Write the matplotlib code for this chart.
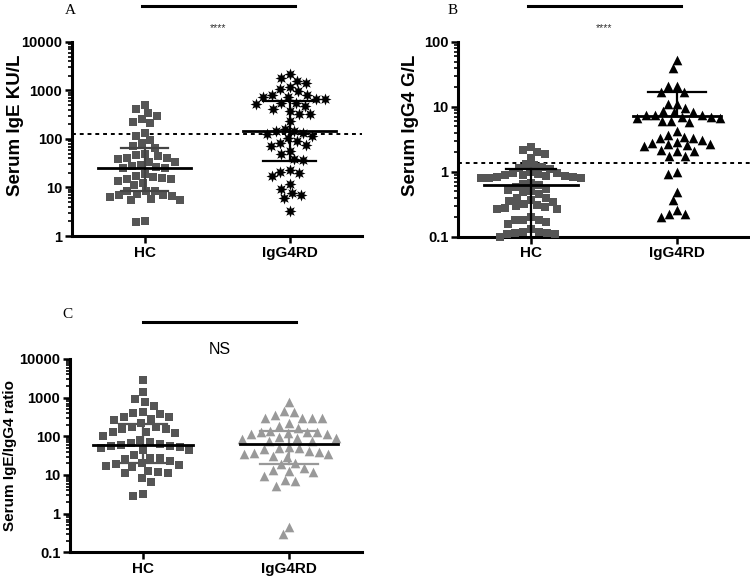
import numpy as np
import matplotlib
matplotlib.use("Agg")
import matplotlib.pyplot as plt
from matplotlib.lines import Line2D

plt.rcParams["font.family"] = ["Liberation Sans", "DejaVu Sans"]

groups = ["HC", "IgG4RD"]

# panel A: serum IgE (KU/L)
hc_ige = [511, 422, 347, 297, 261, 229, 215, 131, 117, 95, 81, 73, 65, 49, 47,
          44, 41, 40, 38, 34, 33, 29, 28, 26, 25, 25, 19, 17, 16.4, 16, 15,
          14.7, 13.5, 12.5, 11.2, 8.4, 8.4, 8.4, 7.4, 7.1, 7.1, 6.6, 6.4, 5.8,
          5.6, 5.4, 2.0, 1.95]
igg4rd_ige = [2154, 1838, 1590, 1400, 1155, 1066, 969, 826, 738, 681, 681, 738,
              826, 553, 479, 536, 562, 422, 377, 332, 332, 240, 162, 145, 127,
              131, 149, 114, 105, 89, 75, 73, 83, 57, 49, 36.5, 38, 21, 20, 17,
              22.6, 11.9, 9.5, 7.1, 6.1, 7.7, 3.3]
ige_center = [25, 145]
ige_upper = [65, 620]
ige_lower = [8.4, 36]
ige_cutoff = 125

# panel B: serum IgG4 (G/L)
hc_igg4 = [2.2, 1.91, 2.03, 2.42, 1.64,
           1.30, 1.15, 1.10, 1.20, 1.25,
           0.97, 0.93, 0.88, 0.85, 0.82, 0.80, 0.79, 0.80, 0.83, 0.86, 0.90,
           0.95, 0.98,
           0.68, 0.58, 0.53, 0.48, 0.45, 0.50, 0.55, 0.62, 0.66,
           0.40, 0.36, 0.32, 0.30, 0.28, 0.27, 0.27, 0.29, 0.31, 0.34, 0.37,
           0.39,
           0.18, 0.18, 0.17, 0.18, 0.20, 0.155,
           0.13, 0.12, 0.115, 0.11, 0.10, 0.11, 0.115, 0.12]
igg4rd_igg4 = [53, 40, 20.7, 20.7, 16.8, 16.8, 11.2, 11.2, 9.7,
               8.3, 7.6, 7.5, 7.1, 6.8, 6.1, 5.8, 6.1, 6.8, 7.1, 7.6, 8.2, 8.5,
               3.75, 3.33, 3.14, 2.79, 2.69, 2.69, 2.85, 3.33, 3.45, 4.2,
               2.48, 2.07, 1.74, 1.74, 2.07, 2.2, 2.55,
               0.94, 0.99, 0.485, 0.366, 0.22, 0.20, 0.22, 0.26]
igg4_center = [0.62, 7.2]
igg4_upper = [1.12, 17.2]
igg4_lower = [0.08, 7.2]
igg4_cutoff = 1.35

# panel C: IgE/IgG4 ratio
hc_ratio = [2866, 1377, 925, 621, 759, 409, 417, 372, 310, 265, 322, 281, 225,
            171, 155, 127, 102, 120, 132, 155, 171,
            73, 63, 57, 52, 43, 43, 49, 56, 60, 66, 80,
            28, 25.5, 20, 18.2, 16.4, 17.1, 18.9, 23, 27, 33,
            12.9, 11.1, 11.1, 12.2, 8.2, 6.5, 2.87, 3.2]
igg4rd_ratio = [760, 453, 357, 417, 293, 293, 293, 293, 189, 168, 217,
                140, 127, 120, 112, 112, 127, 132, 89, 77, 91, 77, 85, 94,
                51, 47, 40, 34, 31.6, 30, 34, 38, 42, 49, 54,
                19, 21, 13.5, 12.2, 12.7, 14.9, 9.6, 7.0, 5.3, 7.4, 0.29, 0.46]
ratio_center = [58, 63]
ratio_upper = [213, 137]
ratio_lower = [20.5, 19.6]


def swarm(vals, lo, px_per_dec, d, px_per_unit):
    # simple beeswarm in pixel space, returns x offsets in data units
    y = (np.log10(vals) - np.log10(lo)) * px_per_dec
    xs = np.zeros(len(y))
    px, py = [], []
    for i in np.argsort(-y):
        yi = y[i]
        cands = [0.0]
        for xj, yj in zip(px, py):
            dy = yi - yj
            if abs(dy) < d:
                dx = np.sqrt(d * d - dy * dy)
                cands += [xj + dx, xj - dx]
        cands.sort(key=lambda c: (round(abs(c), 6), c))
        for c in cands:
            if all((c - xj) ** 2 + (yi - yj) ** 2 >= d * d - 1e-6
                   for xj, yj in zip(px, py)):
                break
        xs[i] = c
        px.append(c)
        py.append(yi)
    return xs / px_per_unit


def style_ax(ax, ticks, ticklabels, ylabel, lab_fs, lab_x, lab_y):
    ax.set_yscale("log")
    ax.set_ylim(ticks[0], ticks[-1])
    ax.set_xlim(-0.5, 1.5)
    ax.set_yticks(ticks)
    ax.set_yticklabels(ticklabels, fontweight="bold", fontsize=10.5)
    ax.set_xticks([0, 1])
    ax.set_xticklabels(groups, fontweight="bold", fontsize=11)
    ax.set_ylabel(ylabel, fontweight="bold", fontsize=lab_fs)
    ax.yaxis.set_label_coords(lab_x, lab_y)
    for s in ["top", "right"]:
        ax.spines[s].set_visible(False)
    for s in ["left", "bottom"]:
        ax.spines[s].set_linewidth(2.2)
    ax.tick_params(axis="both", which="major", length=5, width=1.8, pad=2)
    ax.tick_params(axis="y", which="minor", length=3, width=1.2)
    ax.tick_params(axis="x", which="minor", length=0)
    ax.yaxis.set_minor_formatter(plt.NullFormatter())


def med_bar(ax, x, c, up, lo, color, half=0.32, cap=0.17, ecolor=None):
    ecolor = ecolor or color
    ax.plot([x - half, x + half], [c, c], color=color, lw=2, zorder=5)
    ax.plot([x, x], [lo, up], color=ecolor, lw=1.6, zorder=4)
    ax.plot([x - cap, x + cap], [up, up], color=ecolor, lw=1.6, zorder=4)
    if lo < c and lo > ax.get_ylim()[0]:
        ax.plot([x - cap, x + cap], [lo, lo], color=ecolor, lw=1.6, zorder=4)


fig = plt.figure(figsize=(7.5, 5.79), dpi=100)
axA = fig.add_axes([0.096, 0.5924, 0.3867, 0.3351])
axB = fig.add_axes([0.6107, 0.5912, 0.3893, 0.3363])
axC = fig.add_axes([0.0933, 0.0461, 0.3893, 0.3339])

sq_col = "#555555"

# A
ax = axA
style_ax(ax, [1, 10, 100, 1000, 10000], ["1", "10", "100", "1000", "10000"],
         "Serum IgE KU/L", 13.5, -0.165, 0.572)
ax.scatter(swarm(hc_ige, 1, 48.5, 9, 145), hc_ige, marker="s", s=36,
           color=sq_col, lw=0, zorder=3)
ax.scatter(1 + swarm(igg4rd_ige, 1, 48.5, 9.5, 145), igg4rd_ige,
           marker=(8, 1, 0), s=75, color="black", lw=0, zorder=3)
ax.axhline(ige_cutoff, color="black", lw=1.4, ls=(0, (2, 2)), zorder=2)
med_bar(ax, 0, ige_center[0], ige_upper[0], ige_lower[0], "black",
        ecolor="#444444", cap=0.16)
med_bar(ax, 1, ige_center[1], ige_upper[1], ige_lower[1], "black", cap=0.18)

# B
ax = axB
style_ax(ax, [0.1, 1, 10, 100], ["0.1", "1", "10", "100"], "Serum IgG4 G/L",
         13.5, -0.135, 0.572)
ax.scatter(swarm(hc_igg4, 0.1, 64.9, 8, 144), hc_igg4, marker="s", s=36,
           color=sq_col, lw=0, zorder=3, clip_on=False)
ax.scatter(1 + swarm(igg4rd_igg4, 0.1, 64.9, 9, 144), igg4rd_igg4,
           marker="^", s=48, color="black", lw=0, zorder=3)
ax.axhline(igg4_cutoff, color="black", lw=1.4, ls=(0, (2, 2)), zorder=2)
med_bar(ax, 0, igg4_center[0], igg4_upper[0], igg4_lower[0], "black",
        cap=0.17)
med_bar(ax, 1, igg4_center[1], igg4_upper[1], igg4_lower[1], "black",
        half=0.3, cap=0.2)

# C
ax = axC
style_ax(ax, [0.1, 1, 10, 100, 1000, 10000],
         ["0.1", "1", "10", "100", "1000", "10000"], "Serum IgE/IgG4 ratio",
         11, -0.18, 0.5)
ax.scatter(swarm(hc_ratio, 0.1, 38.67, 10, 145), hc_ratio, marker="s", s=40,
           color=sq_col, lw=0, zorder=3)
ax.scatter(1 + swarm(igg4rd_ratio, 0.1, 38.67, 10, 145), igg4rd_ratio,
           marker="^", s=48, color="#999999", lw=0, zorder=3)
med_bar(ax, 0, ratio_center[0], ratio_upper[0], ratio_lower[0], "black",
        half=0.34, cap=0.165, ecolor="#555555")
med_bar(ax, 1, ratio_center[1], ratio_upper[1], ratio_lower[1], "black",
        half=0.335, cap=0.2, ecolor="#999999")

# significance bars and panel letters (figure coords)
W, H = 750.0, 579.0
for (x0, x1, yb, txt, ty, fs) in [(142, 295, 6, "****", 28, 7.5),
                                  (528, 681, 6, "****", 28, 7.5),
                                  (143, 296, 322, "NS", 350, 11.5)]:
    fig.add_artist(Line2D([x0 / W, x1 / W], [1 - yb / H, 1 - yb / H],
                          color="black", lw=2.2))
    fig.text((x0 + x1) / 2 / W, 1 - ty / H, txt, ha="center", va="center",
             fontsize=fs, color="#333333" if txt == "****" else "black")

for lbl, x, y in [("A", 70, 10), ("B", 453, 10), ("C", 67, 315)]:
    fig.text(x / W, 1 - y / H, lbl, ha="center", va="center", fontsize=11,
             family=["Liberation Serif", "DejaVu Serif"])

fig.savefig("out.png", dpi=100)
